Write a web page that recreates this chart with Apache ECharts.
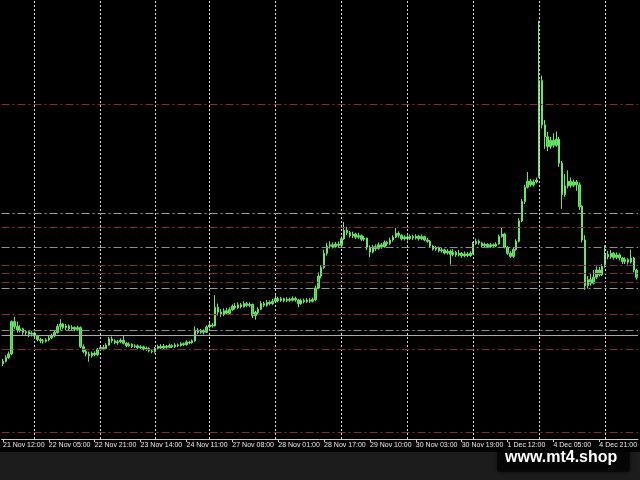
<!DOCTYPE html>
<html><head><meta charset="utf-8">
<script src="https://cdn.jsdelivr.net/npm/echarts/dist/echarts.min.js"></script>
<style>html,body{margin:0;padding:0;background:#000;}#c{width:640px;height:480px;}</style>
</head><body><div id="c"></div>
<script>
// XAUUSD H1 bars (prices)
const opens = [
1992.5,1993.5,1995.0,1996.5,2010.0,2008.0,2006.5,2007.0,2005.5,2005.8,
2004.8,2005.2,2004.0,2002.5,2002.0,2001.8,2002.4,2003.2,2004.0,2005.5,
2008.0,2009.0,2007.5,2008.2,2007.0,2007.6,2006.8,2007.5,1999.5,1997.5,
1996.5,1995.8,1996.8,1996.2,1998.5,1999.2,1998.8,2000.2,2002.8,2002.0,
2001.2,2001.6,2002.2,2001.0,2000.0,2000.6,1999.6,1999.9,1999.1,1999.5,
1998.6,1998.9,1997.8,1997.5,1998.8,1999.6,1999.0,1999.8,1999.3,2000.0,
1999.5,2000.3,2000.0,2000.8,2000.4,2001.5,2001.2,2002.0,2006.5,2005.5,
2006.2,2005.6,2007.8,2008.6,2008.2,2016.0,2014.0,2013.0,2014.5,2013.5,
2015.0,2016.5,2015.8,2017.0,2016.2,2017.5,2016.8,2017.2,2012.5,2013.8,
2015.2,2017.5,2016.8,2018.0,2017.5,2018.5,2019.6,2018.8,2019.5,2018.7,
2019.3,2018.9,2019.6,2019.0,2017.5,2018.8,2018.3,2019.0,2018.5,2019.2,
2024.0,2029.0,2032.5,2038.5,2041.5,2042.0,2041.3,2042.3,2041.8,2044.5,
2048.0,2047.0,2045.8,2046.5,2045.2,2045.8,2044.3,2044.8,2041.0,2039.0,
2041.2,2040.5,2042.0,2041.2,2043.0,2042.5,2044.0,2045.2,2046.8,2046.0,
2044.5,2045.3,2044.6,2045.5,2044.8,2045.6,2044.6,2045.4,2044.0,2043.5,
2041.5,2040.2,2040.8,2039.5,2039.9,2038.6,2039.3,2038.0,2038.8,2037.8,
2038.5,2037.4,2038.2,2037.5,2038.5,2042.5,2043.5,2042.8,2041.6,2042.2,
2041.3,2042.0,2041.5,2042.3,2045.5,2046.5,2041.0,2038.5,2037.2,2040.0,
2043.5,2052.0,2060.0,2066.0,2068.5,2067.0,2068.2,2070.5,2110.5,2092.0,
2087.0,2083.0,2085.5,2083.5,2086.0,2076.0,2063.0,2066.5,2068.5,2066.8,
2068.2,2067.0,2058.0,2044.0,2025.0,2027.5,2026.0,2028.5,2031.5,2029.5,
2033.0,2038.0,2037.0,2038.5,2036.8,2037.8,2036.5,2035.0,2035.8,2034.8,
2036.5,2031.5];
const closes = [
1993.5,1995.0,1996.5,2010.0,2008.0,2006.5,2007.0,2005.5,2005.8,2004.8,
2005.2,2004.0,2002.5,2002.0,2001.8,2002.4,2003.2,2004.0,2005.5,2008.0,
2009.0,2007.5,2008.2,2007.0,2007.6,2006.8,2007.5,1999.5,1997.5,1996.5,
1995.8,1996.8,1996.2,1998.5,1999.2,1998.8,2000.2,2002.8,2002.0,2001.2,
2001.6,2002.2,2001.0,2000.0,2000.6,1999.6,1999.9,1999.1,1999.5,1998.6,
1998.9,1997.8,1997.5,1998.8,1999.6,1999.0,1999.8,1999.3,2000.0,1999.5,
2000.3,2000.0,2000.8,2000.4,2001.5,2001.2,2002.0,2006.5,2005.5,2006.2,
2005.6,2007.8,2008.6,2008.2,2016.0,2014.0,2013.0,2014.5,2013.5,2015.0,
2016.5,2015.8,2017.0,2016.2,2017.5,2016.8,2017.2,2012.5,2013.8,2015.2,
2017.5,2016.8,2018.0,2017.5,2018.5,2019.6,2018.8,2019.5,2018.7,2019.3,
2018.9,2019.6,2019.0,2017.5,2018.8,2018.3,2019.0,2018.5,2019.2,2024.0,
2029.0,2032.5,2038.5,2041.5,2042.0,2041.3,2042.3,2041.8,2044.5,2048.0,
2047.0,2045.8,2046.5,2045.2,2045.8,2044.3,2044.8,2041.0,2039.0,2041.2,
2040.5,2042.0,2041.2,2043.0,2042.5,2044.0,2045.2,2046.8,2046.0,2044.5,
2045.3,2044.6,2045.5,2044.8,2045.6,2044.6,2045.4,2044.0,2043.5,2041.5,
2040.2,2040.8,2039.5,2039.9,2038.6,2039.3,2038.0,2038.8,2037.8,2038.5,
2037.4,2038.2,2037.5,2038.5,2042.5,2043.5,2042.8,2041.6,2042.2,2041.3,
2042.0,2041.5,2042.3,2045.5,2046.5,2041.0,2038.5,2037.2,2040.0,2043.5,
2052.0,2060.0,2066.0,2068.5,2067.0,2068.2,2069.0,2110.5,2092.0,2087.0,
2083.0,2085.5,2083.5,2086.0,2076.0,2063.0,2066.5,2068.5,2066.8,2068.2,
2067.0,2058.0,2044.0,2025.0,2027.5,2026.0,2028.5,2031.5,2029.5,2033.0,
2038.0,2037.0,2038.5,2036.8,2037.8,2036.5,2035.0,2035.8,2034.8,2036.5,
2031.5,2028.5];
const lows = [
1991.5,1993.0,1994.5,1996.0,2007.0,2005.5,2005.5,2004.5,2004.0,2003.5,
2003.8,2003.0,2001.8,2001.0,2000.8,2001.2,2001.8,2002.8,2003.5,2005.0,
2006.5,2006.8,2006.5,2006.2,2006.3,2006.0,2006.2,1999.0,1996.8,1995.5,
1993.3,1995.0,1995.5,1995.8,1998.0,1998.0,1998.5,2000.0,2001.2,2000.6,
2000.4,2001.0,2000.5,1999.3,1999.5,1999.0,1999.0,1998.5,1998.6,1998.0,
1997.8,1997.2,1996.8,1997.0,1998.3,1998.5,1998.6,1998.7,1998.9,1999.0,
1999.1,1999.4,1999.6,1999.8,2000.0,2000.6,2000.8,2001.6,2004.8,2005.0,
2004.6,2005.2,2007.2,2007.5,2008.0,2012.5,2012.0,2012.3,2012.8,2013.0,
2014.5,2015.0,2015.2,2015.5,2015.8,2016.0,2016.0,2011.5,2010.8,2013.0,
2014.8,2016.0,2016.2,2016.8,2017.0,2018.0,2018.0,2018.2,2018.0,2018.1,
2018.2,2018.4,2018.3,2016.0,2017.0,2017.6,2017.8,2017.8,2018.0,2018.5,
2023.5,2028.0,2032.0,2037.5,2040.5,2040.5,2040.8,2041.0,2041.2,2044.0,
2046.0,2045.0,2044.8,2044.4,2044.5,2043.5,2043.5,2039.8,2036.8,2038.5,
2039.5,2040.0,2040.4,2040.8,2041.6,2042.0,2043.3,2044.8,2045.0,2043.8,
2043.8,2043.8,2044.0,2044.0,2044.2,2043.8,2044.0,2043.5,2042.8,2041.0,
2039.6,2039.5,2038.8,2038.7,2038.0,2037.9,2033.8,2037.2,2037.0,2037.2,
2036.6,2036.8,2036.9,2037.0,2038.0,2042.0,2042.0,2041.0,2041.0,2040.6,
2040.7,2040.8,2041.0,2042.0,2045.0,2040.5,2037.8,2036.6,2036.6,2039.5,
2043.0,2051.5,2059.0,2065.5,2066.2,2066.3,2067.6,2070.0,2090.5,2082.0,
2081.0,2082.0,2082.5,2082.8,2074.5,2057.0,2062.0,2065.5,2065.8,2066.0,
2064.5,2056.5,2043.0,2023.2,2023.8,2025.0,2025.5,2027.8,2028.8,2029.0,
2032.5,2036.0,2036.2,2035.8,2036.0,2035.5,2034.0,2034.0,2033.8,2034.2,
2030.5,2027.5];
const highs = [
1994.5,1996.0,1997.5,2010.5,2012.0,2010.0,2008.5,2007.5,2006.5,2006.2,
2006.0,2005.8,2004.5,2003.2,2002.8,2003.0,2004.0,2005.0,2006.2,2009.0,
2011.0,2009.5,2009.0,2008.8,2008.5,2008.0,2008.3,2008.0,2000.5,1998.5,
1997.5,1997.5,1997.6,1999.0,2000.0,2000.3,2001.0,2003.6,2003.8,2002.6,
2002.4,2003.0,2004.0,2001.6,2001.4,2001.0,2000.6,2000.5,2000.2,2000.0,
1999.6,1999.3,1998.6,1999.4,2000.4,2000.6,2000.7,2000.3,2000.8,2000.6,
2001.0,2000.9,2001.4,2001.3,2002.2,2002.0,2002.6,2008.0,2007.3,2007.0,
2006.8,2008.5,2009.5,2009.4,2021.0,2017.5,2015.2,2015.5,2015.8,2016.0,
2017.2,2017.8,2018.0,2017.8,2018.5,2018.2,2018.0,2017.5,2014.5,2016.0,
2018.5,2018.3,2019.0,2018.8,2019.5,2021.0,2020.4,2020.3,2020.0,2020.1,
2020.0,2020.5,2020.4,2019.5,2019.6,2019.6,2019.8,2019.8,2020.0,2025.0,
2030.5,2033.5,2040.0,2042.8,2043.5,2043.0,2043.2,2043.4,2045.5,2051.5,
2049.5,2047.8,2047.5,2047.0,2047.0,2046.3,2045.6,2045.0,2041.8,2042.0,
2042.2,2043.0,2042.8,2043.8,2043.7,2045.0,2046.0,2049.0,2047.6,2046.5,
2046.0,2046.0,2046.3,2046.2,2046.4,2046.2,2046.3,2045.8,2044.8,2044.0,
2042.0,2041.6,2041.3,2040.8,2040.4,2040.2,2040.0,2040.2,2039.5,2039.8,
2039.0,2039.2,2039.0,2039.3,2043.2,2044.6,2044.2,2043.3,2043.0,2042.7,
2042.8,2042.6,2043.0,2046.3,2049.3,2047.0,2041.5,2039.3,2041.0,2044.3,
2053.0,2061.0,2067.0,2072.3,2069.5,2069.2,2070.0,2135.4,2112.5,2094.0,
2089.0,2087.0,2088.5,2089.2,2087.0,2077.0,2071.5,2073.0,2070.0,2069.2,
2069.0,2068.0,2058.5,2046.0,2029.0,2030.0,2031.5,2033.0,2032.8,2034.0,
2041.8,2039.5,2039.8,2039.0,2038.8,2038.5,2037.0,2036.8,2036.4,2040.0,
2037.0,2032.0];

// time-axis labels (bar index where each label sits)
const tickIndex  = [0,16,32,48,64,80,96,112,128,144,160,176,192,208];
const tickLabels = ['21 Nov 12:00','22 Nov 05:00','22 Nov 21:00','23 Nov 14:00','24 Nov 11:00',
  '27 Nov 08:00','28 Nov 01:00','28 Nov 17:00','29 Nov 10:00','30 Nov 03:00','30 Nov 19:00',
  '1 Dec 12:00','4 Dec 05:00','4 Dec 21:00'];
// first bar of each trading day (vertical grid)
const dayStarts = [11,34,53,72,95,118,141,164,187,210];
// horizontal level lines (prices)
const redLevels  = [2100.67,2049.13,2033.58,2030.04,2026.42,2013.04,1998.58,1963.8];
const greenGrayLevels = [2055.25,2023.88];
const grayLevels = [2040.79,2006.5];
const solidLevels = [2004.13];

const chart = echarts.init(document.getElementById('c'));
const labelAt = {};
tickIndex.forEach((b, k) => { labelAt[b] = tickLabels[k]; });
const categories = opens.map((_, i) => i);
const candles = opens.map((o, i) => [o, closes[i], lows[i], highs[i]]);
const dashDot = [8, 3, 2, 3];
const lines = [];
dayStarts.forEach(v => lines.push({xAxis: v, lineStyle: {color: '#d8d8d8', type: [2, 2], width: 1}}));
redLevels.forEach(v => lines.push({yAxis: v, lineStyle: {color: '#8e2830', type: dashDot, width: 1}}));
greenGrayLevels.forEach(v => lines.push({yAxis: v, lineStyle: {color: '#8fa28f', type: dashDot, width: 1}}));
grayLevels.forEach(v => lines.push({yAxis: v, lineStyle: {color: '#8c8c8c', type: dashDot, width: 1}}));
solidLevels.forEach(v => lines.push({yAxis: v, lineStyle: {color: '#a8a8a8', type: 'solid', width: 1}}));

const showAt = (i) => Object.prototype.hasOwnProperty.call(labelAt, i);
chart.setOption({
  backgroundColor: '#000000',
  animation: false,
  grid: {left: 0, right: 0, top: 0, bottom: 41},
  xAxis: {
    type: 'category', data: categories, boundaryGap: true,
    axisLine: {show: true, onZero: false, lineStyle: {color: '#cfcfcf', width: 1}},
    axisTick: {show: true, interval: showAt, alignWithLabel: true, length: 3, lineStyle: {color: '#cfcfcf'}},
    axisLabel: {show: true, interval: showAt, formatter: (v, i) => labelAt[i] || '', align: 'left',
      margin: 3, color: '#ececec', fontSize: 7, fontFamily: 'Liberation Sans'},
    splitLine: {show: false}
  },
  yAxis: {type: 'value', min: 1961.1, max: 2144, show: false, splitLine: {show: false}},
  series: [
    {type: 'line', data: [], z: 1, silent: true,
     markLine: {silent: true, symbol: ['none', 'none'], label: {show: false}, animation: false, data: lines}},
    {type: 'candlestick', z: 3, data: candles, barWidth: 2,
     itemStyle: {color: '#44d244', color0: '#44d244', borderColor: '#6ae86a', borderColor0: '#6ae86a', borderWidth: 1}}
  ],
  graphic: [
    {type: 'rect', shape: {x: 0, y: 452, width: 640, height: 28}, style: {fill: '#1c1c1c'}, silent: true},
    {type: 'rect', shape: {x: 497, y: 440, width: 133, height: 32, r: 3},
     style: {fill: 'rgba(0,0,0,0.6)', shadowBlur: 4, shadowColor: 'rgba(0,0,0,0.8)'}, silent: true},
    {type: 'text', x: 505, y: 450, silent: true,
     style: {text: 'www.mt4.shop', fill: '#ffffff', font: 'bold 16px "Liberation Sans", Arial, sans-serif', verticalAlign: 'top'}}
  ]
});
</script></body></html>
